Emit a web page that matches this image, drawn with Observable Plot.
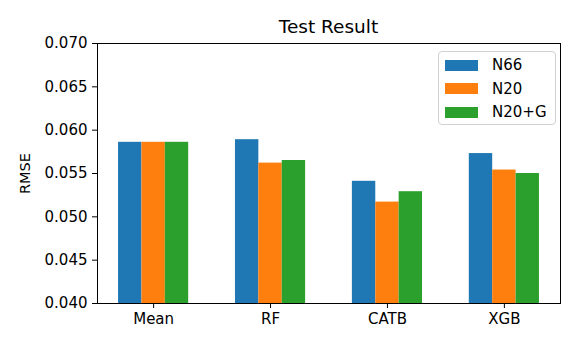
<!DOCTYPE html>
<html>
<head>
<meta charset="utf-8">
<script src="https://cdn.jsdelivr.net/npm/d3@7"></script>
<script src="https://cdn.jsdelivr.net/npm/@observablehq/plot@0.6"></script>
<style>
  html, body { margin: 0; padding: 0; background: white; }
  #wrap { position: relative; width: 581px; height: 349px; font-family: "DejaVu Sans", sans-serif; }
  #title { position: absolute; left: 97px; width: 463px; top: 12px; height: 30px; line-height: 30px; text-align: center; font-size: 18.5px; color: black; }
  #legend { position: absolute; left: 438px; top: 51px; width: 118px; height: 74px; border: 1px solid #d0d0d0; border-radius: 4px; background: rgba(255,255,255,0.8); box-sizing: border-box; }
  .row { position: absolute; left: 6px; height: 22px; display: flex; align-items: center; font-size: 15px; color: black; }
  .sw { width: 33px; height: 11px; margin-right: 14px; }
  g[aria-label="y-axis label"] text { font-size: 14.5px; }
</style>
</head>
<body>
<div id="wrap">
  <div id="chart"></div>
  <div id="title"></div>
  <div id="legend"></div>
</div>
<script>
const categories = ["Mean", "RF", "CATB", "XGB"];
const series = ["N66", "N20", "N20+G"];
const colors = ["#1f77b4", "#ff7f0e", "#2ca02c"];
const N66 = [0.0586, 0.0589, 0.0541, 0.0573];
const N20 = [0.0586, 0.0562, 0.0517, 0.0554];
const N20G = [0.0586, 0.0565, 0.0529, 0.0550];
const yTicks = [0.040, 0.045, 0.050, 0.055, 0.060, 0.065, 0.070];
const yLabel = "RMSE";
const title = "Test Result";

const values = [N66, N20, N20G];
const barW = 0.2;
const data = categories.flatMap((c, i) => series.map((s, j) => ({
  model: c, series: s, value: values[j][i], center: i + (j - 1) * barW
})));
const yMin = yTicks[0], yMax = yTicks[yTicks.length - 1];
const catIdx = categories.map((c, i) => i);

const plot = Plot.plot({
  width: 581,
  height: 349,
  marginTop: 43,
  marginBottom: 46,
  marginLeft: 97,
  marginRight: 21,
  style: {fontFamily: "DejaVu Sans", fontSize: "15px", color: "black", background: "white", overflow: "visible"},
  x: {domain: [-0.48, categories.length - 1 + 0.48]},
  y: {domain: [yMin, yMax]},
  color: {domain: series, range: colors},
  marks: [
    Plot.rectY(data, {x1: d => d.center - barW / 2, x2: d => d.center + barW / 2, y1: yMin, y2: "value", fill: "series"}),
    Plot.axisY({ticks: yTicks, tickFormat: d3.format(".3f"), tickSize: 5, tickPadding: 5,
      label: yLabel, labelAnchor: "center", labelArrow: "none", labelOffset: 78, stroke: "black"}),
    Plot.axisX({ticks: catIdx, tickFormat: i => categories[i], tickSize: 5, tickPadding: 5, label: null, stroke: "black"}),
    Plot.frame({stroke: "black"})
  ]
});
document.getElementById("chart").appendChild(plot);

document.getElementById("title").textContent = title;
const legend = document.getElementById("legend");
series.forEach((s, j) => {
  const row = document.createElement("div");
  row.className = "row";
  row.style.top = (2 + j * 23.5) + "px";
  const sw = document.createElement("div");
  sw.className = "sw";
  sw.style.background = plot.scale("color").apply(s);
  const t = document.createElement("span");
  t.textContent = s;
  row.appendChild(sw);
  row.appendChild(t);
  legend.appendChild(row);
});
</script>
</body>
</html>
